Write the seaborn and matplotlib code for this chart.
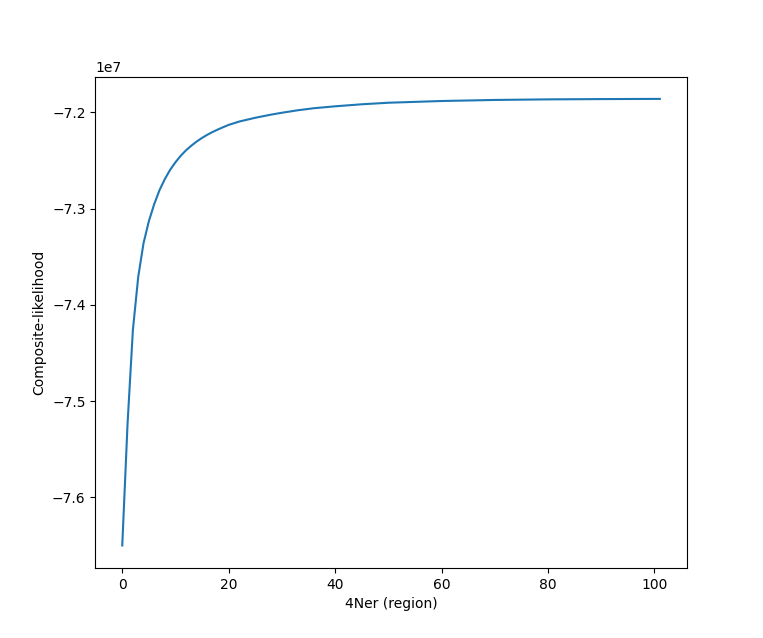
import numpy as np
import pandas as pd
import matplotlib
matplotlib.use('Agg')
import matplotlib.pyplot as plt
import seaborn as sns

# 4Ner values and composite-likelihood (in units of 1e7)
ner = [0, 1, 2, 3, 4, 5, 6, 7, 8, 9, 10, 11, 12, 13, 14, 15, 16, 17, 18,
       19, 20, 22, 25, 28, 30, 33, 36, 40, 45, 50, 60, 70, 80, 90, 101]
cl = [-7.650, -7.523, -7.426, -7.371, -7.3359, -7.3131, -7.2955, -7.2809,
      -7.2694, -7.2597, -7.2519, -7.2451, -7.2394, -7.2346, -7.2303,
      -7.2266, -7.2233, -7.2204, -7.2178, -7.2154, -7.2131, -7.2096,
      -7.2057, -7.2024, -7.2005, -7.1979, -7.1958, -7.1938, -7.1917,
      -7.1901, -7.1883, -7.1872, -7.1866, -7.1863, -7.1861]

df = pd.DataFrame({'ner': ner, 'cl': np.array(cl) * 1e7})

fig = plt.figure(figsize=(7.63, 6.38), dpi=100)
ax = fig.add_subplot(111)
sns.lineplot(data=df, x='ner', y='cl', ax=ax, color='#1f77b4', linewidth=1.5)
ax.set_xlabel("4Ner (region)")
ax.set_ylabel("Composite-likelihood")
ax.set_xticks([0, 20, 40, 60, 80, 100])
fig.savefig('out.png', dpi=100)
